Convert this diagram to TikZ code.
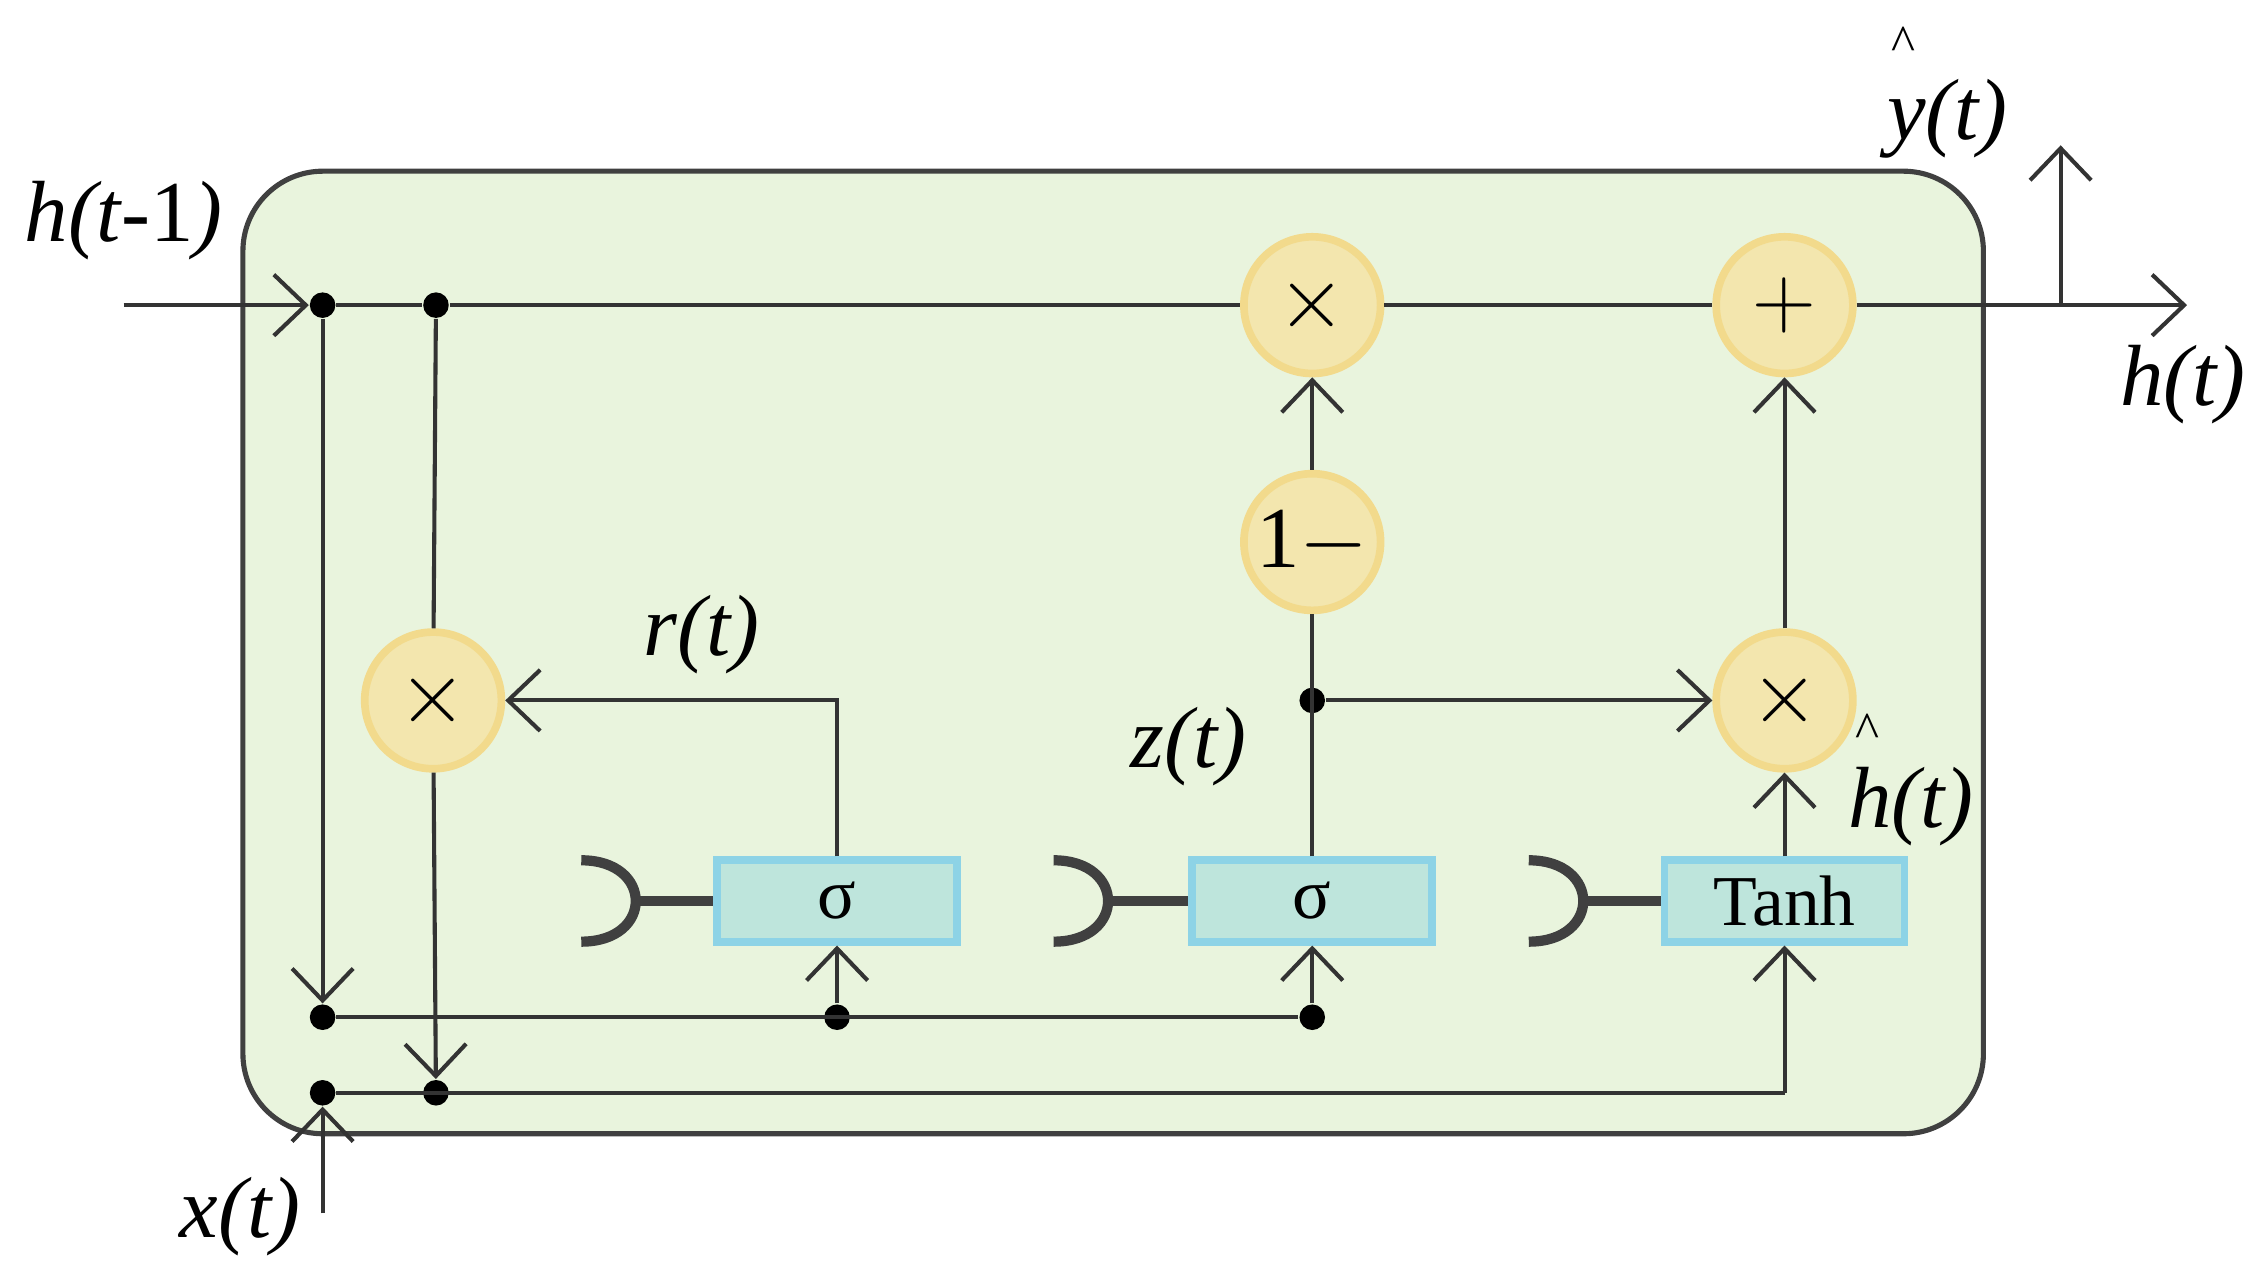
\documentclass[tikz,border=0pt]{standalone}
\usepackage{fontspec}
\setmainfont{Liberation Serif}
\usetikzlibrary{arrows.meta}
\definecolor{bg}{HTML}{E9F4DD}
\definecolor{cfill}{HTML}{F3E6AE}
\definecolor{cdraw}{HTML}{F2DA8C}
\definecolor{bfill}{HTML}{BEE5DC}
\definecolor{bdraw}{HTML}{8DD3E6}
\begin{document}
\begin{tikzpicture}[x=0.01cm,y=-0.01cm,
  ln/.style={draw=black!80,line width=0.8pt},
  ar/.style={ln,-{Straight Barb[length=2.2mm,width=4.2mm]}},
  op/.style={circle,fill=cfill,draw=cdraw,line width=1.5pt,minimum size=0.94cm,inner sep=0pt,font=\fontsize{17}{20}\selectfont},
  gate/.style={rectangle,fill=bfill,draw=bdraw,line width=1.5pt,minimum width=1.65cm,minimum height=0.56cm,inner sep=0pt,font=\fontsize{14}{16}\selectfont},
  lab/.style={font=\fontsize{17}{20}\selectfont\itshape},
  hat/.style={font=\fontsize{10}{10}\selectfont},
  dot/.style={circle,fill=black,inner sep=0pt,minimum size=5pt},
  hk/.style={draw=black!75,line width=2pt}]
\useasboundingbox (0,0) rectangle (1560,880);
\node[draw=black!75,line width=1pt,fill=bg,rounded corners=0.55cm,minimum width=11.97cm,minimum height=6.62cm] (cell) at (766,449) {};
% ops
\node[op] (m1) at (903,210) {$\times$};
\node[op] (pl) at (1228,210) {$+$};
\node[op] (om) at (903,373) {1$-$};
\node[op] (mr) at (298,482) {$\times$};
\node[op] (mz) at (1228,482) {$\times$};
\node[gate] (g1) at (576,620) {σ};
\node[gate] (g2) at (903,620) {σ};
\node[gate] (g3) at (1228,620) {Tanh};
% dots / coords
\coordinate (in) at (85,210);
\node[dot] (d1) at (222,210) {};
\node[dot] (d2) at (300,210) {};
\node[dot] (d3) at (222,700) {};
\node[dot] (d4) at (576,700) {};
\node[dot] (d5) at (903,700) {};
\node[dot] (d6) at (222,752) {};
\node[dot] (d7) at (300,752) {};
\node[dot] (d8) at (903,482) {};
\coordinate (xin) at (222,835);
\coordinate (out) at (1505,210);
\coordinate (ys) at (1418,210);
\coordinate (ye) at (1418,100);
\coordinate (tc) at (1228,752);
% lines
\draw[ar] (in) -- (d1);
\draw[ln] (d1) -- (d2) -- (m1);
\draw[ln] (m1) -- (pl);
\draw[ar] (pl) -- (out);
\draw[ar] (ys) -- (ye);
\draw[ar] (d1) -- (d3);
\draw[ln] (d2) -- (mr);
\draw[ar] (mr) -- (d7);
\draw[ar] (xin) -- (d6);
\draw[ln] (d3) -- (d5);
\draw[ln] (d6) -- (tc);
\draw[ar] (tc) -- (g3);
\draw[ar] (d4) -- (g1);
\draw[ar] (d5) -- (g2);
\draw[ar] (g1) |- (mr);
\draw[ln] (g2) -- (om);
\draw[ar] (om) -- (m1);
\draw[ar] (d8) -- (mz);
\draw[ar] (g3) -- (mz);
\draw[ar] (mz) -- (pl);
% hooks
\foreach \g/\x in {g1/400,g2/725,g3/1052}{
  \draw[hk] (\x,592) .. controls (\x+50,592) and (\x+50,648) .. (\x,648);
  \draw[hk] (\x+37,620) -- (\g.west);
}
% labels
\node[lab] (l1) at (85,152) {h(t{\upshape -1})};
\node[lab] (l2) at (1340,82) {y(t)};
\node[hat] (l2h) at (1310,30) {\^{}};
\node[lab] (l3) at (1502,265) {h(t)};
\node[lab] (l4) at (483,437) {r(t)};
\node[lab] (l5) at (818,514) {z(t)};
\node[lab] (l6) at (1315,555) {h(t)};
\node[hat] (l6h) at (1285,503) {\^{}};
\node[lab] (l7) at (165,837) {x(t)};
\end{tikzpicture}
\end{document}
